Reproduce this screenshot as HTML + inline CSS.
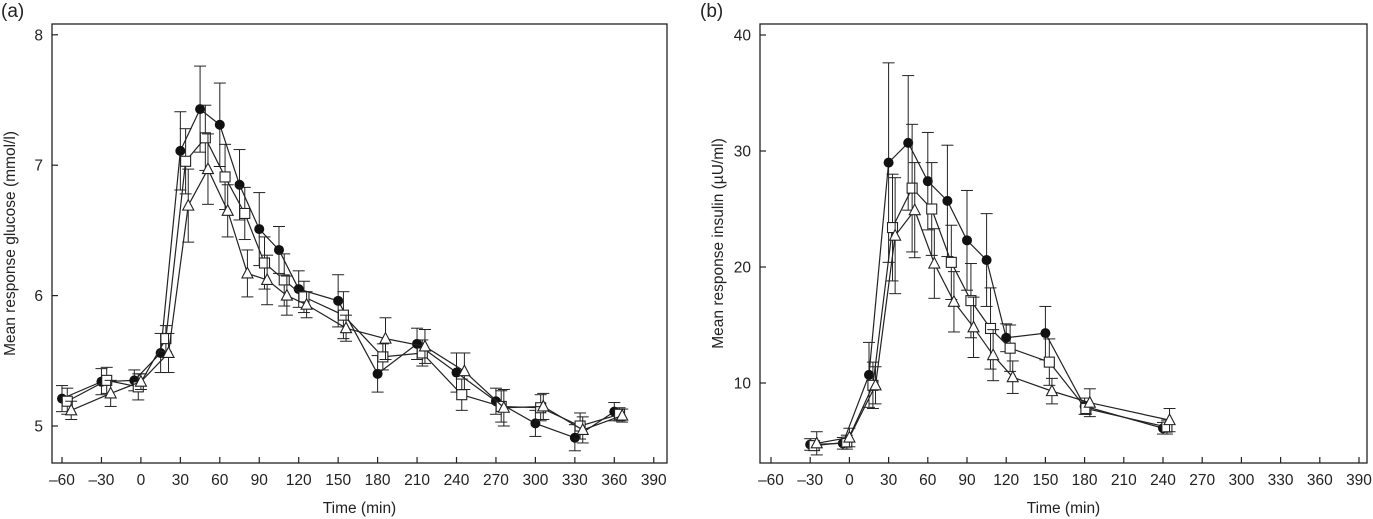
<!DOCTYPE html>
<html><head><meta charset="utf-8"><style>
html,body{margin:0;padding:0;background:#fff;}
svg{display:block;font-family:"Liberation Sans",sans-serif;}
</style></head><body>
<svg id="chart" width="1373" height="519"></svg>
<script>
// Panel (a) glucose data
const gTimesC=[-60,-30,-5,15,30,45,60,75,90,105,120,150,180,210,240,270,300,330,360];
const gTimesS=[-56,-26,-2,19,34,49,64,79,94,109,124,154,184,214,244,274,304,334,364];
const gTimesT=[-53,-23,0,21,36,51,66,81,96,111,126,156,186,216,246,276,306,336,366];
const gCircle=[5.21,5.34,5.35,5.56,7.11,7.43,7.31,6.85,6.51,6.35,6.05,5.96,5.40,5.63,5.41,5.19,5.02,4.91,5.11];
const gCircleErr=[0.1,0.1,0.08,0.15,0.3,0.33,0.32,0.27,0.28,0.18,0.14,0.2,0.14,0.12,0.15,0.1,0.1,0.1,0.07];
const gSquare=[5.19,5.35,5.30,5.67,7.03,7.21,6.91,6.63,6.25,6.12,5.99,5.85,5.53,5.56,5.24,5.15,5.14,5.00,5.09];
const gSquareErr=[0.1,0.1,0.1,0.1,0.25,0.25,0.25,0.2,0.2,0.2,0.12,0.18,0.1,0.1,0.12,0.12,0.1,0.1,0.05];
const gTriangle=[5.12,5.25,5.34,5.56,6.69,6.97,6.65,6.17,6.12,6.00,5.93,5.75,5.67,5.61,5.42,5.14,5.15,4.97,5.08];
const gTriangleErr=[0.07,0.1,0.06,0.15,0.28,0.27,0.2,0.18,0.19,0.15,0.1,0.1,0.16,0.13,0.14,0.14,0.1,0.1,0.05];
const gYTicks=[5,6,7,8];
// Panel (b) insulin data
const iTimesC=[-30,-5,15,30,45,60,75,90,105,120,150,180,240];
const iTimesS=[-27,-2,18,33,48,63,78,93,108,123,153,181,243];
const iTimesT=[-25,0,20,35,50,65,80,95,110,125,155,184,245];
const iCircle=[4.7,4.8,10.7,29.0,30.7,27.4,25.7,22.3,20.6,13.9,14.3,8.0,6.1];
const iCircleErr=[0.5,0.5,2.8,8.6,5.8,4.2,4.8,4.3,4.0,1.2,2.3,0.7,0.5];
const iSquare=[4.6,4.9,9.8,23.4,26.8,25.0,20.4,17.1,14.7,13.0,11.8,7.8,6.2];
const iSquareErr=[0.4,0.6,2.0,4.6,5.5,4.0,3.2,3.2,3.5,2.0,2.0,0.5,0.6];
const iTriangle=[4.8,5.3,9.8,22.7,24.9,20.3,17.0,14.8,12.4,10.5,9.3,8.3,6.8];
const iTriangleErr=[1.0,0.8,1.6,5.0,4.1,3.0,2.6,2.6,2.2,1.4,1.1,1.2,1.0];
const iYTicks=[10,20,30,40];
const xTicks=[-60,-30,0,30,60,90,120,150,180,210,240,270,300,330,360,390];

const svg=document.getElementById('chart');
const NS='http://www.w3.org/2000/svg';
function mk(tag,attrs,parent){const e=document.createElementNS(NS,tag);for(const k in attrs)e.setAttribute(k,attrs[k]);(parent||svg).appendChild(e);return e;}

function panel(p){
  const g=mk('g',{});
  
  
  const X=t=>p.x0+(t-(-60))*p.xs;
  const Y=v=>p.y0-(v-p.v0)*p.ys;
  const fr=mk('rect',{x:p.L,y:24,width:p.R-p.L,height:463-24,fill:'none',stroke:'#222','stroke-width':1.3},g);
  
  const lab=mk('text',{x:p.labX,y:17,'font-size':19,fill:'#222'},g);lab.textContent=p.label;
  
  xTicks.forEach(t=>{
    mk('line',{x1:X(t),x2:X(t),y1:463,y2:457,stroke:'#222','stroke-width':1.2},g);
    const tx=mk('text',{x:X(t),y:485,'font-size':15.5,'text-anchor':'middle',fill:'#222'},g);
    tx.textContent=t<0?'\u2013'+(-t):String(t);
    
  });
  p.yt.forEach(v=>{
    mk('line',{x1:p.L,x2:p.L+6,y1:Y(v),y2:Y(v),stroke:'#222','stroke-width':1.2},g);
    const ty=mk('text',{x:p.L-9,y:Y(v)+5.5,'font-size':15.5,'text-anchor':'end',fill:'#222'},g);
    ty.textContent=String(v);
    
  });
  const xt=mk('text',{x:(p.L+p.R)/2,y:513,'font-size':15.5,'text-anchor':'middle',fill:'#222'},g);
  xt.textContent='Time (min)';
  const yx=p.L-37,yy=(24+463)/2;
  const yt=mk('text',{x:yx,y:yy,'font-size':15.5,'text-anchor':'middle',fill:'#222',transform:`rotate(-90 ${yx} ${yy})`},g);
  yt.textContent=p.ytitle;
  p.series.forEach(s=>{
    const sg=mk('g',{},g);
    
    const pts=s.t.map((t,i)=>X(t)+','+Y(s.v[i])).join(' ');
    mk('polyline',{points:pts,fill:'none',stroke:'#222','stroke-width':1.2},sg);
    s.t.forEach((t,i)=>{
      const x=X(t),y=Y(s.v[i]),yh=Y(s.v[i]+s.e[i]),yl=Y(s.v[i]-s.e[i]);
      mk('line',{x1:x,x2:x,y1:yh,y2:yl,stroke:'#222','stroke-width':1},sg);
      mk('line',{x1:x-6,x2:x+6,y1:yh,y2:yh,stroke:'#222','stroke-width':1},sg);
      mk('line',{x1:x-6,x2:x+6,y1:yl,y2:yl,stroke:'#222','stroke-width':1},sg);
      let m;
      if(s.kind==='circle') m=mk('circle',{cx:x,cy:y,r:5,fill:'#111'},sg);
      else if(s.kind==='square') m=mk('rect',{x:x-5,y:y-5,width:10,height:10,fill:'#fff',stroke:'#222','stroke-width':1.1},sg);
      else m=mk('polygon',{points:`${x},${y-6} ${x-5.5},${y+4.5} ${x+5.5},${y+4.5}`,fill:'#fff',stroke:'#222','stroke-width':1.1},sg);
      
    });
  });
}
panel({name:'glucose-panel',label:'(a)',labX:1,L:52,R:667,x0:62,xs:39.45/30,v0:5,y0:426,ys:130.4,yt:gYTicks,
  ytitle:'Mean response glucose (mmol/l)',
  series:[{kind:'circle',t:gTimesC,v:gCircle,e:gCircleErr},{kind:'square',t:gTimesS,v:gSquare,e:gSquareErr},{kind:'triangle',t:gTimesT,v:gTriangle,e:gTriangleErr}]});
panel({name:'insulin-panel',label:'(b)',labX:700,L:760,R:1367,x0:771,xs:39.2/30,v0:10,y0:383,ys:11.6,yt:iYTicks,
  ytitle:'Mean response insulin (\u00b5U/ml)',
  series:[{kind:'circle',t:iTimesC,v:iCircle,e:iCircleErr},{kind:'square',t:iTimesS,v:iSquare,e:iSquareErr},{kind:'triangle',t:iTimesT,v:iTriangle,e:iTriangleErr}]});
</script>
</body></html>
